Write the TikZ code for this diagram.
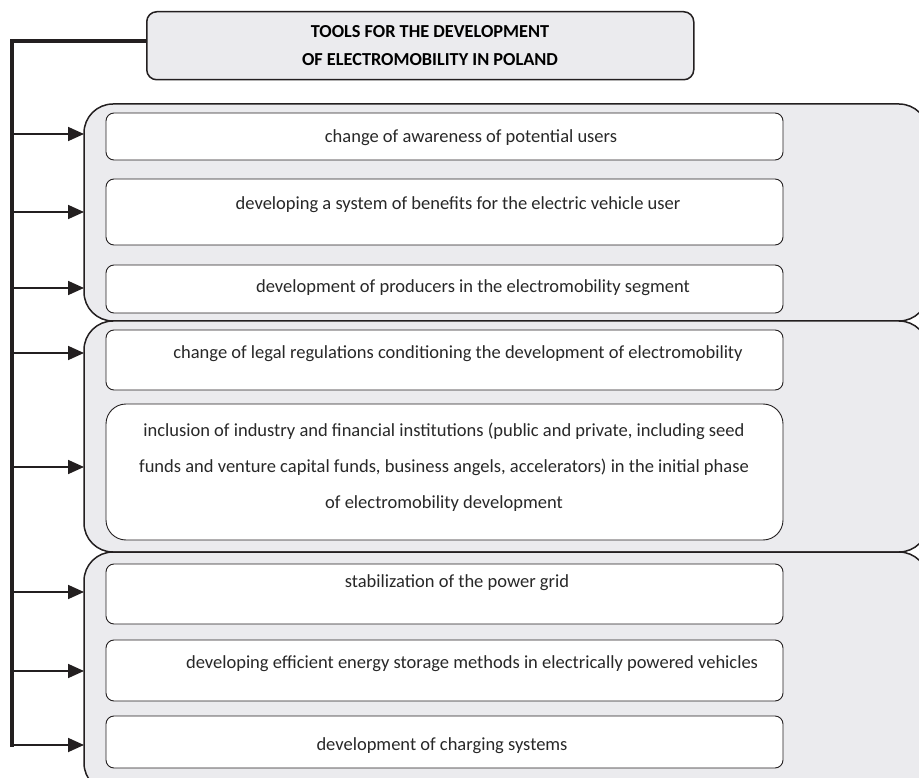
\documentclass[tikz,border=0pt]{standalone}
\usepackage{fontspec}
\setmainfont{Carlito}
\usetikzlibrary{arrows.meta,positioning}
\definecolor{panelgray}{RGB}{235,235,238}
\definecolor{edgegray}{RGB}{35,31,32}
\definecolor{textgray}{RGB}{40,40,40}

\begin{document}
\begin{tikzpicture}[x=1pt, y=-1pt,
    group/.style={draw=edgegray, fill=panelgray, line width=1.5pt, rounded corners=29pt,
                  minimum width=844pt, inner sep=0pt, outer sep=0pt, anchor=north west},
    item/.style={draw=edgegray, fill=white, line width=0.9pt, rounded corners=8pt,
                 minimum width=677pt, inner sep=0pt, outer sep=0pt, anchor=north west},
    txt/.style={font=\fontsize{18.5}{36}\selectfont, text=textgray, align=center, inner sep=0pt},
    arr/.style={-{Triangle[length=16pt,width=14pt]}, line width=1.8pt, edgegray},
    spine/.style={line width=3.4pt, edgegray}]

    \useasboundingbox (0,0) rectangle (919,778);

    % Title
    \node[draw=edgegray, fill=panelgray, line width=1.5pt, rounded corners=10pt, inner sep=0pt,
          minimum width=547pt, minimum height=68pt, anchor=north west] (title) at (146,11) {};
    \node[font=\fontsize{18.3}{28}\selectfont\bfseries, align=center, inner sep=0pt] (titletext) at (430,46)
        {TOOLS FOR THE DEVELOPMENT\\OF ELECTROMOBILITY IN POLAND};

    % Groups
    \node[group, minimum height=217pt] (g1) at (84,104) {};
    \node[group, minimum height=231pt] (g2) at (84,321) {};
    \node[group, minimum height=240pt] (g3) at (84,552) {};

    % Boxes
    \node[item, minimum height=47pt] (b1) at (106,113) {};
    \node[item, minimum height=66pt] (b2) at (106,179) {};
    \node[item, minimum height=48pt] (b3) at (106,265) {};
    \node[item, minimum height=60pt] (b4) at (106,330) {};
    \node[item, minimum height=136pt, rounded corners=20pt] (b5) at (106,404) {};
    \node[item, minimum height=60pt] (b6) at (106,564) {};
    \node[item, minimum height=61pt] (b7) at (106,640) {};
    \node[item, minimum height=52pt] (b8) at (106,716) {};

    % Texts
    \node[txt] (t1) at (471,138) {change of awareness of potential users};
    \node[txt] (t2) at (458,205) {developing a system of benefits for the electric vehicle user};
    \node[txt] (t3) at (473,288) {development of producers in the electromobility segment};
    \node[txt] (t4) at (458,354) {change of legal regulations conditioning the development of electromobility};
    \node[txt] (t5) at (444,467) {inclusion of industry and financial institutions (public and private, including seed\\
        funds and venture capital funds, business angels, accelerators) in the initial phase\\
        of electromobility development};
    \node[txt] (t6) at (457,583) {stabilization of the power grid};
    \node[txt] (t7) at (472,664) {developing efficient energy storage methods in electrically powered vehicles};
    \node[txt] (t8) at (442,746) {development of charging systems};

    % Spine and arrows
    \coordinate (corner) at (12,41);
    \foreach \y [count=\i] in {134,212,288,353,467,592,671,745}
        \coordinate (s\i) at (12,\y);
    \draw[spine] (title.west |- corner) -- (corner) -- ([yshift=-1.7pt]s8);
    \foreach \i/\g in {1/g1,2/g1,3/g1,4/g2,5/g2,6/g3,7/g3,8/g3}
        \draw[arr] (s\i) -- (s\i -| \g.west);
\end{tikzpicture}
\end{document}
